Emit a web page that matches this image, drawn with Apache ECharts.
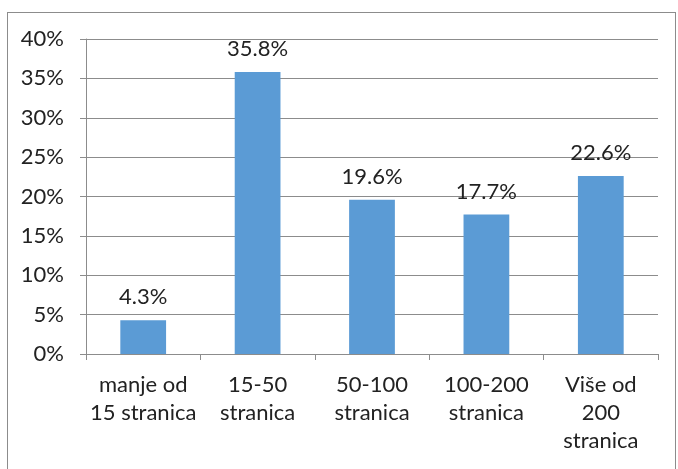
<!DOCTYPE html>
<html>
<head>
<meta charset="utf-8">
<script src="https://cdn.jsdelivr.net/npm/echarts@6/dist/echarts.min.js"></script>
<style>
html, body { margin: 0; padding: 0; background: #fff; }
#frame {
    position: absolute; left: 7px; top: 12px; width: 669px; height: 470px;
    border: 1px solid #8c8c8c; border-bottom: none; box-sizing: border-box;
}
#chart { position: absolute; left: 0; top: 0; width: 678px; height: 469px; }
</style>
</head>
<body>
<div id="frame"></div>
<div id="chart"></div>
<script>
// kategorije i vrijednosti (%)
var categories = ['manje od\n15 stranica', '15-50\nstranica', '50-100\nstranica', '100-200\nstranica', 'Više od\n200\nstranica'];
var values = [4.3, 35.8, 19.6, 17.7, 22.6];
var yTicks = [0, 5, 10, 15, 20, 25, 30, 35, 40];

var chart = echarts.init(document.getElementById('chart'));
var font = 'Lato, "Liberation Sans", sans-serif';

var option = {
    animation: false,
    grid: { left: 86, right: 20, top: 39, bottom: 115 },
    xAxis: {
        type: 'category',
        data: categories,
        axisLine: { lineStyle: { color: '#8c8c8c' } },
        axisTick: { show: true, length: 6, lineStyle: { color: '#8c8c8c' } },
        axisLabel: {
            interval: 0, hideOverlap: false,
            color: '#222', fontFamily: font, fontSize: 22, lineHeight: 28, margin: 17
        }
    },
    yAxis: {
        type: 'value',
        min: yTicks[0],
        max: yTicks[yTicks.length - 1],
        interval: 5,
        axisLine: { show: true, lineStyle: { color: '#8c8c8c' } },
        axisTick: { show: true, length: 6, lineStyle: { color: '#8c8c8c' } },
        splitLine: { lineStyle: { color: '#8c8c8c' } },
        axisLabel: { color: '#222', fontFamily: font, fontSize: 22, margin: 22, formatter: '{value}%' }
    },
    series: [{
        type: 'bar',
        data: values,
        barWidth: '40%',
        itemStyle: { color: '#5b9bd5' },
        label: {
            show: true, position: 'top', distance: 12,
            color: '#222', fontFamily: font, fontSize: 22,
            formatter: function (p) { return p.value.toFixed(1) + '%'; }
        }
    }]
};
chart.setOption(option);
</script>
</body>
</html>
